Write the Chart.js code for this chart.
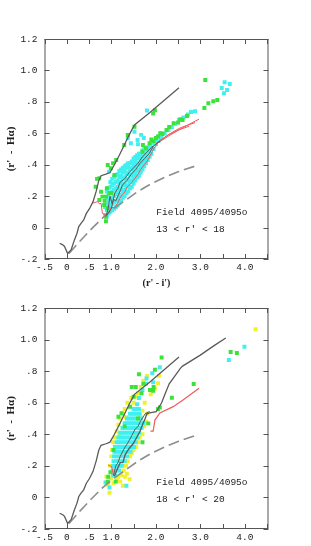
<!DOCTYPE html>
<html>
<head>
<meta charset="utf-8">
<script src="https://cdn.jsdelivr.net/npm/chart.js@4.4.1/dist/chart.umd.min.js"></script>
<style>
  html, body { margin: 0; padding: 0; background: #fff; }
  body { width: 311px; height: 546px; position: relative; overflow: hidden; }
  .panel { position: absolute; left: 0; width: 311px; }
  #top-panel { top: 0; height: 290px; }
  #bottom-panel { top: 290px; height: 256px; }
</style>
</head>
<body>
<div class="panel" id="top-panel"><canvas id="topChart"></canvas></div>
<div class="panel" id="bottom-panel"><canvas id="bottomChart"></canvas></div>
<script>
// ---------------------------------------------------------------------------
// axis ticks
// ---------------------------------------------------------------------------
const xTickValues = [-0.5, 0, 0.5, 1, 2, 3, 4];
const xTickText = ["-.5", "0", ".5", "1.0", "2.0", "3.0", "4.0"];
const yTickValues = [-0.2, 0, 0.2, 0.4, 0.6, 0.8, 1.0, 1.2];
const yTickText = ["-.2", "0", ".2", ".4", ".6", ".8", "1.0", "1.2"];

const xTitle = "(r' - i')";
const yTitle = "(r'  -  H\u03b1)";
const topNote = ["Field 4095/4095o", "13 < r' < 18"];
const bottomNote = ["Field 4095/4095o", "18 < r' < 20"];

// ---------------------------------------------------------------------------
// model tracks (same in both panels)
// ---------------------------------------------------------------------------
const upperTrack = [
    [-0.16, -0.10], [-0.09, -0.11], [-0.05, -0.12], [0.02, -0.165], [0.10, -0.14],
    [0.17, -0.08], [0.23, -0.036], [0.27, 0.006], [0.32, 0.027], [0.38, 0.048],
    [0.44, 0.09], [0.51, 0.12], [0.59, 0.165], [0.66, 0.23], [0.72, 0.30],
    [0.77, 0.33], [0.88, 0.34], [0.97, 0.35], [1.07, 0.40], [1.18, 0.46],
    [1.30, 0.53], [1.41, 0.595], [1.52, 0.653], [1.86, 0.73], [2.52, 0.89],
];
const dashedTrack = [
    [0.05, -0.165], [0.30, -0.085], [0.55, -0.01], [0.80, 0.06], [1.05, 0.12],
    [1.30, 0.17], [1.60, 0.23], [1.90, 0.28], [2.20, 0.32], [2.50, 0.355], [2.87, 0.39],
];

// ---------------------------------------------------------------------------
// top panel, 13 < r' < 18
// ---------------------------------------------------------------------------
const topGreyA = [
    [0.88, 0.07], [0.93, 0.12], [0.97, 0.20], [1.02, 0.15], [1.08, 0.22], [1.15, 0.25],
    [1.20, 0.29], [1.30, 0.31], [1.40, 0.35], [1.50, 0.38], [1.60, 0.41], [1.70, 0.45],
    [1.80, 0.48], [1.90, 0.51], [2.00, 0.53], [2.10, 0.55],
];
const topGreyB = [
    [0.90, 0.08], [1.00, 0.12], [1.05, 0.18], [1.10, 0.17], [1.18, 0.22], [1.25, 0.27],
    [1.35, 0.30], [1.45, 0.34], [1.55, 0.37], [1.65, 0.41], [1.75, 0.44], [1.85, 0.47], [1.95, 0.52],
];
const topRedA = [
    [0.58, 0.155], [0.69, 0.165], [0.74, 0.15], [0.77, 0.155], [0.80, 0.09], [0.88, 0.08],
    [0.95, 0.10], [1.00, 0.13], [1.07, 0.125], [1.14, 0.155], [1.22, 0.20], [1.29, 0.22],
    [1.36, 0.26], [1.44, 0.28], [1.52, 0.31], [1.59, 0.335], [1.66, 0.37], [1.74, 0.40],
    [1.80, 0.42], [1.86, 0.45], [1.95, 0.50], [2.05, 0.54], [2.30, 0.585], [2.60, 0.635], [2.97, 0.69],
];
const topRedB = [[2.05, 0.54], [2.30, 0.595], [2.55, 0.635], [2.88, 0.668]];
const topRedC = [[2.00, 0.535], [2.25, 0.585], [2.50, 0.62], [2.75, 0.645]];

const topCyan = [
    [0.86, 0.08], [0.86, 0.13],
    [0.90, 0.07], [0.90, 0.11], [0.90, 0.15], [0.90, 0.19], [0.90, 0.23],
    [0.94, 0.09], [0.94, 0.13], [0.94, 0.17], [0.94, 0.21], [0.94, 0.25],
    [0.98, 0.10], [0.98, 0.14], [0.98, 0.18], [0.98, 0.22], [0.98, 0.26], [0.98, 0.29],
    [1.02, 0.11], [1.02, 0.15], [1.02, 0.19], [1.02, 0.23], [1.02, 0.27], [1.02, 0.31],
    [1.06, 0.12], [1.06, 0.16], [1.06, 0.20], [1.06, 0.24], [1.06, 0.28], [1.06, 0.32],
    [1.10, 0.13], [1.10, 0.17], [1.10, 0.21], [1.10, 0.25], [1.10, 0.29], [1.10, 0.33],
    [1.14, 0.14], [1.14, 0.18], [1.14, 0.22], [1.14, 0.26], [1.14, 0.30], [1.14, 0.34],
    [1.18, 0.16], [1.18, 0.20], [1.18, 0.24], [1.18, 0.28], [1.18, 0.32], [1.18, 0.36],
    [1.22, 0.17], [1.22, 0.21], [1.22, 0.25], [1.22, 0.29], [1.22, 0.33], [1.22, 0.37],
    [1.26, 0.19], [1.26, 0.23], [1.26, 0.27], [1.26, 0.31], [1.26, 0.35], [1.26, 0.38],
    [1.30, 0.20], [1.30, 0.24], [1.30, 0.28], [1.30, 0.32], [1.30, 0.36], [1.30, 0.39],
    [1.34, 0.22], [1.34, 0.26], [1.34, 0.30], [1.34, 0.34], [1.34, 0.38], [1.34, 0.40],
    [1.38, 0.23], [1.38, 0.27], [1.38, 0.31], [1.38, 0.35], [1.38, 0.39], [1.38, 0.41],
    [1.42, 0.25], [1.42, 0.29], [1.42, 0.33], [1.42, 0.37], [1.42, 0.41],
    [1.46, 0.26], [1.46, 0.30], [1.46, 0.34], [1.46, 0.38], [1.46, 0.42],
    [1.50, 0.28], [1.50, 0.32], [1.50, 0.36], [1.50, 0.40], [1.50, 0.44],
    [1.54, 0.30], [1.54, 0.34], [1.54, 0.38], [1.54, 0.42], [1.54, 0.45],
    [1.58, 0.32], [1.58, 0.36], [1.58, 0.40], [1.58, 0.44], [1.58, 0.46],
    [1.62, 0.33], [1.62, 0.37], [1.62, 0.41], [1.62, 0.45], [1.62, 0.47],
    [1.66, 0.35], [1.66, 0.39], [1.66, 0.43], [1.66, 0.47],
    [1.70, 0.37], [1.70, 0.41], [1.70, 0.45], [1.70, 0.49],
    [1.74, 0.39], [1.74, 0.43], [1.74, 0.47], [1.74, 0.50],
    [1.78, 0.41], [1.78, 0.45], [1.78, 0.49], [1.78, 0.51],
    [1.82, 0.43], [1.82, 0.47], [1.82, 0.51],
    [1.86, 0.45], [1.86, 0.49], [1.86, 0.52],
    [1.90, 0.47], [1.90, 0.51], [1.90, 0.54],
    [1.95, 0.50], [1.95, 0.54], [2.00, 0.53], [2.00, 0.56],
    [2.06, 0.55], [2.06, 0.58], [2.12, 0.57], [2.12, 0.60],
    [2.20, 0.60], [2.28, 0.62], [2.36, 0.64], [2.44, 0.66], [2.52, 0.685],
    [2.62, 0.70], [2.72, 0.72], [2.79, 0.736], [2.88, 0.74],
    [1.37, 0.568], [1.52, 0.61], [1.59, 0.557], [1.44, 0.536], [1.67, 0.59],
    [1.73, 0.57], [1.60, 0.53], [0.95, 0.356], [1.80, 0.745],
    [3.545, 0.925], [3.66, 0.914], [3.48, 0.888], [3.60, 0.876], [3.53, 0.855],
];
const topGreen = [
    [0.88, 0.04], [0.88, 0.069], [0.92, 0.123], [0.84, 0.144], [0.73, 0.176], [0.80, 0.197],
    [0.88, 0.197], [0.77, 0.228], [0.65, 0.26], [0.73, 0.314], [0.68, 0.31], [0.92, 0.398],
    [0.99, 0.377], [1.07, 0.335], [0.96, 0.22], [0.85, 0.17], [0.90, 0.25], [1.00, 0.22],
    [1.04, 0.41], [1.11, 0.43], [1.29, 0.526], [1.37, 0.589], [1.52, 0.642], [1.70, 0.483],
    [1.78, 0.505], [1.86, 0.537], [1.94, 0.726], [1.98, 0.747], [1.90, 0.56], [1.95, 0.55],
    [2.05, 0.579], [2.15, 0.596], [2.24, 0.621], [2.40, 0.664], [2.50, 0.668], [2.60, 0.685],
    [2.70, 0.71], [2.00, 0.57], [2.10, 0.60], [2.30, 0.64], [2.55, 0.69], [1.71, 0.526],
    [3.09, 0.761], [3.18, 0.791], [3.29, 0.804], [3.38, 0.812], [3.11, 0.939],
];

// ---------------------------------------------------------------------------
// bottom panel, 18 < r' < 20
// ---------------------------------------------------------------------------
const botGreyC = [
    [1.05, 0.14], [1.10, 0.20], [1.15, 0.22], [1.20, 0.26], [1.31, 0.32], [1.36, 0.34],
    [1.42, 0.37], [1.53, 0.43], [1.60, 0.45], [1.65, 0.48], [1.76, 0.53], [1.86, 0.545],
];
const botGreyD = [
    [1.07, 0.135], [1.12, 0.17], [1.20, 0.22], [1.26, 0.22], [1.31, 0.27], [1.40, 0.31],
    [1.49, 0.34], [1.55, 0.37], [1.64, 0.416], [1.70, 0.46], [1.76, 0.50], [1.80, 0.53],
    [1.86, 0.535], [2.01, 0.543], [2.13, 0.60], [2.20, 0.65], [2.30, 0.72], [2.43, 0.77],
    [2.55, 0.818], [2.60, 0.832], [2.99, 0.90], [3.30, 0.96], [3.57, 1.01],
];
const botRedE = [[0.93, 0.205], [1.01, 0.195], [1.045, 0.142], [1.07, 0.135]];
const botRedF = [
    [1.88, 0.42], [1.94, 0.42], [1.98, 0.49], [2.09, 0.535], [2.39, 0.575], [2.61, 0.617], [2.97, 0.691],
];

const botCyan = [
    [1.04, 0.14], [1.09, 0.14],
    [1.03, 0.17], [1.08, 0.17], [1.13, 0.17], [1.18, 0.17],
    [1.04, 0.20], [1.09, 0.20], [1.14, 0.20], [1.19, 0.20], [1.24, 0.20],
    [1.05, 0.23], [1.10, 0.23], [1.15, 0.23], [1.20, 0.23], [1.25, 0.23], [1.30, 0.23],
    [1.06, 0.26], [1.11, 0.26], [1.16, 0.26], [1.21, 0.26], [1.26, 0.26], [1.31, 0.26], [1.36, 0.26],
    [1.07, 0.29], [1.12, 0.29], [1.17, 0.29], [1.22, 0.29], [1.27, 0.29], [1.32, 0.29], [1.38, 0.29], [1.43, 0.29],
    [1.08, 0.32], [1.13, 0.32], [1.18, 0.32], [1.23, 0.32], [1.28, 0.32], [1.33, 0.32], [1.39, 0.32], [1.45, 0.32], [1.51, 0.32],
    [1.12, 0.35], [1.17, 0.35], [1.22, 0.35], [1.27, 0.35], [1.32, 0.35], [1.37, 0.35], [1.43, 0.35], [1.49, 0.35], [1.55, 0.35],
    [1.16, 0.38], [1.21, 0.38], [1.26, 0.38], [1.31, 0.38], [1.36, 0.38], [1.41, 0.38], [1.47, 0.38], [1.53, 0.38], [1.59, 0.38],
    [1.20, 0.41], [1.25, 0.41], [1.30, 0.41], [1.35, 0.41], [1.40, 0.41], [1.45, 0.41], [1.51, 0.41], [1.57, 0.41], [1.63, 0.41],
    [1.25, 0.44], [1.30, 0.44], [1.35, 0.44], [1.40, 0.44], [1.45, 0.44], [1.50, 0.44], [1.56, 0.44], [1.62, 0.44], [1.68, 0.44],
    [1.30, 0.47], [1.35, 0.47], [1.40, 0.47], [1.45, 0.47], [1.50, 0.47], [1.55, 0.47], [1.61, 0.47], [1.67, 0.47], [1.72, 0.47],
    [1.35, 0.50], [1.40, 0.50], [1.45, 0.50], [1.50, 0.50], [1.55, 0.50], [1.61, 0.50], [1.67, 0.50],
    [1.42, 0.53], [1.47, 0.53], [1.52, 0.53], [1.57, 0.53], [1.63, 0.53],
    [1.50, 0.56], [1.56, 0.56], [1.62, 0.56], [1.58, 0.59],
    [1.62, 0.63], [1.70, 0.68], [1.78, 0.72], [1.94, 0.729], [1.92, 0.786], [2.09, 0.824],
    [1.79, 0.754], [0.87, 0.095], [0.96, 0.063], [1.34, 0.074],
    [3.99, 0.955], [3.64, 0.87],
];
const botYellow = [
    [0.97, 0.20], [1.00, 0.26], [1.02, 0.30], [1.04, 0.35], [1.08, 0.38], [1.12, 0.42],
    [1.16, 0.46], [1.20, 0.50], [1.26, 0.53], [1.30, 0.56], [1.36, 0.60], [1.45, 0.63],
    [1.50, 0.60], [1.55, 0.64], [1.60, 0.66], [1.66, 0.70], [1.72, 0.74], [1.80, 0.77],
    [1.885, 0.653], [2.05, 0.723], [2.07, 0.771], [1.98, 0.69],
    [1.15, 0.13], [1.22, 0.14], [1.28, 0.17], [1.33, 0.20], [1.37, 0.23], [1.42, 0.26],
    [1.46, 0.28], [1.50, 0.30], [1.56, 0.32], [1.60, 0.35], [1.64, 0.38], [1.70, 0.40],
    [1.74, 0.45], [1.78, 0.48], [1.80, 0.53], [1.70, 0.55], [1.75, 0.60],
    [0.89, 0.131], [0.93, 0.08], [0.96, 0.03], [1.05, 0.09], [1.12, 0.11], [1.20, 0.10],
    [1.26, 0.074], [1.31, 0.131], [1.41, 0.116], [1.35, 0.15], [1.00, 0.12],
    [1.10, 0.31], [1.18, 0.40], [1.42, 0.30], [1.55, 0.40], [1.33, 0.51], [1.65, 0.52],
    [4.24, 1.065],
];
const botGreen = [
    [0.93, 0.131], [0.92, 0.10], [0.98, 0.16], [1.10, 0.10], [1.16, 0.511], [1.23, 0.533],
    [1.42, 0.575], [1.50, 0.638], [1.68, 0.66], [1.46, 0.70], [1.72, 0.72], [1.87, 0.68],
    [1.95, 0.70], [1.83, 0.469], [1.94, 0.676], [1.98, 0.809], [2.13, 0.887], [2.09, 0.57],
    [2.05, 0.56], [2.36, 0.632], [2.85, 0.718], [3.68, 0.921], [3.82, 0.915],
    [1.60, 0.50], [1.70, 0.35], [1.30, 0.45], [1.05, 0.30], [1.55, 0.70], [1.62, 0.78],
];

// ---------------------------------------------------------------------------
// helpers
// ---------------------------------------------------------------------------
const MONO = "'Liberation Mono', 'DejaVu Sans Mono', monospace";
const SERIF = "'Liberation Serif', 'DejaVu Serif', serif";

function toXY(list) {
    return list.map(([x, y]) => ({ x, y }));
}

function lineSet(list, color, width, dash) {
    return {
        data: toXY(list),
        showLine: true,
        borderColor: color,
        borderWidth: width,
        borderDash: dash || [],
        pointRadius: 0,
        fill: false,
        tension: 0,
    };
}

function dotSet(list, color) {
    return {
        data: toXY(list),
        showLine: false,
        pointStyle: "rect",
        pointRadius: 2.8,
        pointBorderWidth: 0,
        backgroundColor: color,
        borderColor: color,
    };
}

function labelFor(values, texts, v) {
    const i = values.findIndex((t) => Math.abs(t - v) < 1e-6);
    return i < 0 ? "" : texts[i];
}

// frame with inward ticks on all four sides, plus the field note
const framePlugin = {
    id: "frame",
    afterDatasetsDraw(chart, args, opts) {
        const { ctx, chartArea: a, scales } = chart;
        ctx.save();
        ctx.strokeStyle = "#555";
        ctx.lineWidth = 1;
        ctx.strokeRect(a.left + 0.5, a.top + 0.5, a.right - a.left - 1, a.bottom - a.top - 1);
        ctx.beginPath();
        scales.x.ticks.forEach((t) => {
            const px = Math.round(scales.x.getPixelForValue(t.value)) + 0.5;
            ctx.moveTo(px, a.bottom);
            ctx.lineTo(px, a.bottom - 5);
            ctx.moveTo(px, a.top);
            ctx.lineTo(px, a.top + 5);
        });
        scales.y.ticks.forEach((t) => {
            const py = Math.round(scales.y.getPixelForValue(t.value)) + 0.5;
            ctx.moveTo(a.left, py);
            ctx.lineTo(a.left + 5, py);
            ctx.moveTo(a.right, py);
            ctx.lineTo(a.right - 5, py);
        });
        ctx.stroke();

        ctx.fillStyle = "#222";
        ctx.font = "9.5px " + MONO;
        ctx.textBaseline = "middle";
        ctx.textAlign = "left";
        const nx = scales.x.getPixelForValue(2.01);
        ctx.fillText(opts.note[0], nx, scales.y.getPixelForValue(0.097));
        ctx.fillText(opts.note[1], nx, scales.y.getPixelForValue(-0.01));
        ctx.restore();
    },
};

function makeChart(canvasId, datasets, note, showXTitle, padTop, xAxisHeight) {
    return new Chart(document.getElementById(canvasId), {
        type: "scatter",
        data: { datasets },
        plugins: [framePlugin],
        options: {
            responsive: true,
            maintainAspectRatio: false,
            devicePixelRatio: 1,
            animation: false,
            events: [],
            layout: { padding: { left: 0, right: 42.5, top: padTop, bottom: 0 } },
            plugins: {
                legend: { display: false },
                tooltip: { enabled: false },
                frame: { note },
            },
            scales: {
                x: {
                    type: "linear",
                    min: -0.5,
                    max: 4.53,
                    grid: { display: false, drawTicks: false },
                    border: { display: false },
                    ticks: {
                        stepSize: 0.5,
                        includeBounds: false,
                        autoSkip: false,
                        maxRotation: 0,
                        padding: 3,
                        color: "#222",
                        font: { family: MONO, size: 9.5 },
                        callback: (v) => labelFor(xTickValues, xTickText, v),
                    },
                    title: {
                        display: showXTitle,
                        text: xTitle,
                        color: "#222",
                        font: { family: SERIF, size: 10, weight: "bold" },
                        padding: { top: 0, bottom: 1 },
                    },
                    afterFit: (scale) => { scale.height = xAxisHeight; },
                },
                y: {
                    type: "linear",
                    min: -0.2,
                    max: 1.2,
                    grid: { display: false, drawTicks: false },
                    border: { display: false },
                    ticks: {
                        stepSize: 0.2,
                        autoSkip: false,
                        padding: 7,
                        color: "#222",
                        font: { family: MONO, size: 9.5 },
                        callback: (v) => labelFor(yTickValues, yTickText, v),
                    },
                    title: {
                        display: true,
                        text: yTitle,
                        color: "#222",
                        font: { family: SERIF, size: 11, weight: "bold" },
                        padding: { top: 5, bottom: 0 },
                    },
                    afterFit: (scale) => { scale.width = 44.5; },
                },
            },
        },
    });
}

const GREY = "#5a5a5a";
const DASH_GREY = "#8e8e8e";
const RED = "#f05a5a";
const GREEN = "#3ae23a";
const CYAN = "#40f0f0";
const YELLOW = "#f0f02c";

makeChart("topChart", [
    lineSet(upperTrack, GREY, 1.3),
    lineSet(topGreyA, GREY, 1),
    lineSet(topGreyB, GREY, 1),
    lineSet(topRedA, RED, 1),
    lineSet(topRedB, RED, 1),
    lineSet(topRedC, RED, 1),
    lineSet(dashedTrack, DASH_GREY, 1.6, [11, 5]),
    dotSet(topGreen, GREEN),
    dotSet(topCyan, CYAN),
], topNote, true, 39, 31);

makeChart("bottomChart", [
    lineSet(upperTrack, GREY, 1.3),
    lineSet(botGreyC, GREY, 1),
    lineSet(botGreyD, GREY, 1.3),
    lineSet(botRedE, RED, 1),
    lineSet(botRedF, RED, 1.2),
    lineSet(dashedTrack, DASH_GREY, 1.6, [11, 5]),
    dotSet(botGreen, GREEN),
    dotSet(botCyan, CYAN),
    dotSet(botYellow, YELLOW),
], bottomNote, false, 18, 17);
</script>
</body>
</html>
